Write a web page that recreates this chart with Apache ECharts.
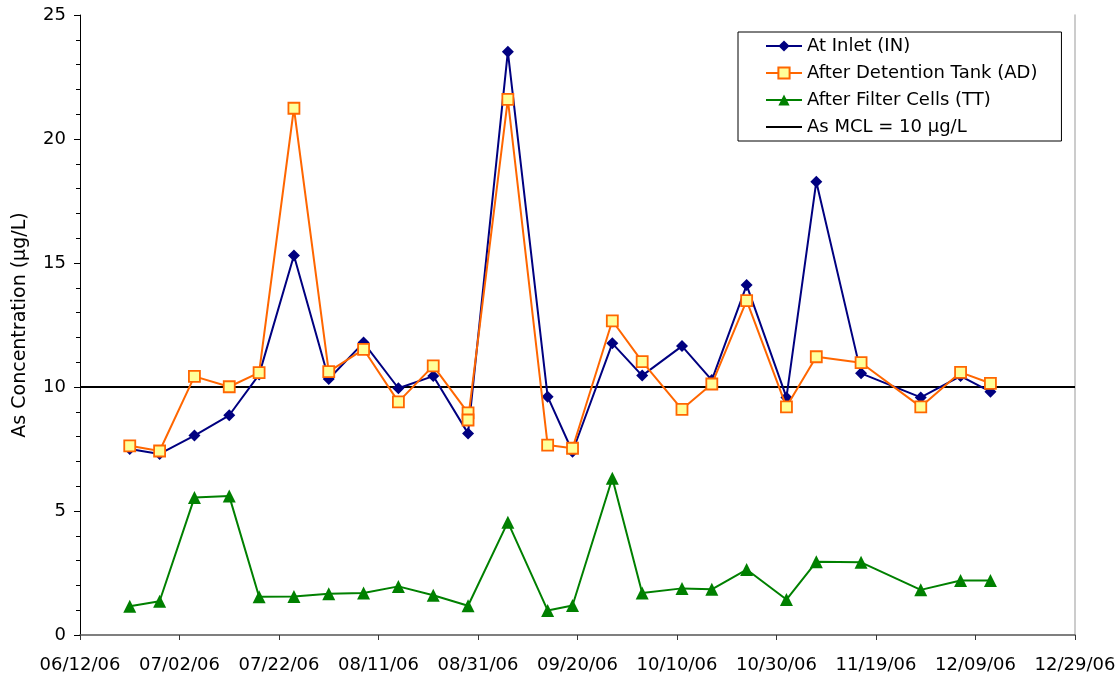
<!DOCTYPE html>
<html>
<head>
<meta charset="utf-8">
<script src="https://cdn.jsdelivr.net/npm/echarts@6/dist/echarts.min.js"></script>
<style>html,body{margin:0;padding:0;background:#fff}#c{width:1120px;height:681px}</style>
</head>
<body>
<div id="c"></div>
<script>
// Sample dates (MM/DD/YY)
const dates = ["06/22/06","06/28/06","07/05/06","07/12/06","07/18/06","07/25/06","08/01/06","08/08/06","08/15/06","08/22/06","08/29/06","09/06/06","09/14/06","09/19/06","09/27/06","10/03/06","10/11/06","10/17/06","10/24/06","11/01/06","11/07/06","11/16/06","11/28/06","12/06/06","12/12/06"];
// At Inlet (IN)
const inValues = [7.5,7.3,8.04,8.86,10.5,15.3,10.32,11.79,9.95,10.44,8.13,23.52,9.61,7.39,11.76,10.46,11.65,10.28,14.11,9.58,18.28,10.55,9.58,10.44,9.81];
// After Detention Tank (AD); the 08/29/06 date has two samples
const adDates = ["06/22/06","06/28/06","07/05/06","07/12/06","07/18/06","07/25/06","08/01/06","08/08/06","08/15/06","08/22/06","08/29/06","08/29/06","09/06/06","09/14/06","09/19/06","09/27/06","10/03/06","10/11/06","10/17/06","10/24/06","11/01/06","11/07/06","11/16/06","11/28/06","12/06/06","12/12/06"];
const adValues = [7.63,7.42,10.43,10.01,10.58,21.24,10.62,11.52,9.4,10.85,8.96,8.67,21.6,7.66,7.53,12.67,11.02,9.1,10.12,13.48,9.2,11.22,10.98,9.2,10.59,10.15];
// After Filter Cells (TT)
const ttValues = [1.16,1.36,5.54,5.6,1.54,1.55,1.66,1.69,1.96,1.6,1.18,4.55,0.99,1.19,6.32,1.69,1.88,1.84,2.64,1.43,2.95,2.93,1.82,2.2,2.2];
// MCL
const mclValue = 10;
const mclDates = ["06/12/06","12/29/06"];
// Axis
const xStart = "06/12/06";
const xEnd = "12/29/06";
const yTicks = [0,5,10,15,20,25];

function toUTC(s){const p=s.split('/');return Date.UTC(2000+ +p[2], +p[0]-1, +p[1]);}
const DAY=86400000;
const t0=toUTC(xStart);
function dayOff(s){return Math.round((toUTC(s)-t0)/DAY);}
function fmt(d){const dt=new Date(t0+d*DAY);const mm=String(dt.getUTCMonth()+1).padStart(2,'0');const dd=String(dt.getUTCDate()).padStart(2,'0');const yy=String(dt.getUTCFullYear()%100).padStart(2,'0');return mm+'/'+dd+'/'+yy;}

const font='"DejaVu Sans", sans-serif';
const chart=echarts.init(document.getElementById('c'),null,{renderer:'canvas'});
chart.setOption({
  animation:false,
  backgroundColor:'#fff',
  textStyle:{fontFamily:font},
  grid:{left:80,right:45,top:15,bottom:46,containLabel:false},
  legend:{
    orient:'vertical',left:738,top:32,
    backgroundColor:'#fff',borderColor:'#000',borderWidth:1,
    padding:[5,24,5,27],itemGap:9,itemWidth:36,itemHeight:14,
    textStyle:{fontFamily:font,fontSize:18,color:'#000'},
    data:['At Inlet (IN)','After Detention Tank (AD)','After Filter Cells (TT)',
          {name:'As MCL = 10 µg/L',icon:'path://M0,0 L36,0 L36,2 L0,2 Z'}]
  },
  xAxis:{
    type:'value',min:0,max:dayOff(xEnd),interval:20,
    axisLine:{lineStyle:{color:'#555',width:1.5}},
    axisTick:{show:true,length:5,lineStyle:{color:'#333'}},
    splitLine:{show:false},
    axisLabel:{formatter:v=>fmt(v),fontSize:18,color:'#000',margin:21,fontFamily:font,showMaxLabel:true,showMinLabel:true}
  },
  yAxis:[{
    type:'value',min:yTicks[0],max:yTicks[yTicks.length-1],interval:5,
    axisLine:{show:true,lineStyle:{color:'#000',width:1}},
    axisTick:{show:true,length:6,lineStyle:{color:'#000'}},
    minorTick:{show:true,splitNumber:5,length:4,lineStyle:{color:'#000'}},
    splitLine:{show:false},
    axisLabel:{fontSize:18,color:'#000',margin:14,fontFamily:font},
    name:'As Concentration (µg/L)',nameLocation:'middle',nameGap:50,nameRotate:90,
    nameTextStyle:{fontSize:19,color:'#000',fontFamily:font}
  },{
    type:'value',min:0,max:25,position:'right',
    axisLine:{show:true,lineStyle:{color:'#bbb',width:1.5}},
    axisTick:{show:false},axisLabel:{show:false},splitLine:{show:false}
  }],
  series:[
    {name:'As MCL = 10 µg/L',type:'line',data:mclDates.map(d=>[dayOff(d),mclValue]),
     symbol:'none',lineStyle:{color:'#000',width:2},itemStyle:{color:'#000'},z:1},
    {name:'At Inlet (IN)',type:'line',data:dates.map((d,i)=>[dayOff(d),inValues[i]]),
     symbol:'diamond',symbolSize:12,lineStyle:{color:'#000080',width:2},itemStyle:{color:'#000080'},z:3},
    {name:'After Detention Tank (AD)',type:'line',data:adDates.map((d,i)=>[dayOff(d),adValues[i]]),
     symbol:'rect',symbolSize:11,lineStyle:{color:'#FF6600',width:2},itemStyle:{color:'#FFFF99',borderColor:'#FF6600',borderWidth:1.8},z:4},
    {name:'After Filter Cells (TT)',type:'line',data:dates.map((d,i)=>[dayOff(d),ttValues[i]]),
     symbol:'triangle',symbolSize:13,lineStyle:{color:'#008000',width:2},itemStyle:{color:'#008000'},z:3}
  ]
});
</script>
</body>
</html>
